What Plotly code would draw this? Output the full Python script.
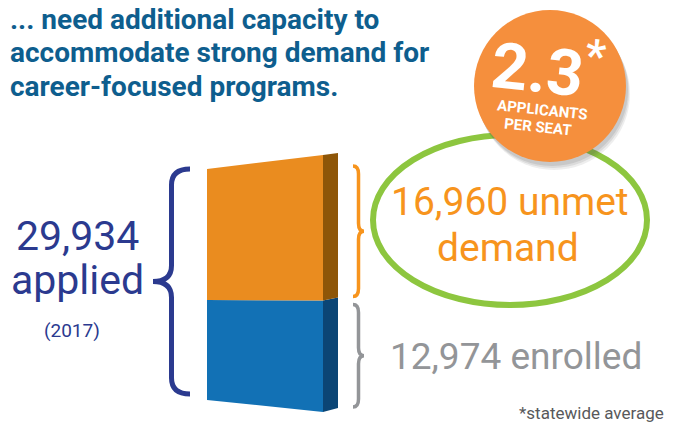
import plotly.graph_objects as go

# data
segments = ["enrolled", "unmet demand"]
segment_values = [12974, 16960]
applied_total = 29934
applied_year = "2017"
applicants_per_seat = 2.3
footnote = "*statewide average"

NAVY = "#2B3A8F"
TITLE_BLUE = "#0E5E8E"
ORANGE = "#F7941D"
GREY = "#939598"
GREEN = "#8DC63F"
FRONT = ["#1271B5", "#EA8C1F"]
SIDE = ["#0B4575", "#8E5608"]
FONT = "Roboto, Liberation Sans, sans-serif"

W, H = 680, 423
PAGE_OFFSET = 8  # the page body margin pushes the plot 8px right and down

# bar axis: value 0 sits at pixel 412, the total at pixel 155 on the front-right edge
Y_ZERO_PX = 412
PX_PER_UNIT = (412 - 155) / applied_total


def to_units(px):
    return (Y_ZERO_PX - px) / PX_PER_UNIT


def edge(v, bottom_px, top_px):
    b, t = to_units(bottom_px), to_units(top_px)
    return b + v / applied_total * (t - b)


def to_px(v):
    return Y_ZERO_PX - v * PX_PER_UNIT


X_LEFT, X_FRONT_R, X_SIDE_R = 207, 323, 338
LEFT_EDGE = (400, 169)
RIGHT_EDGE = (412, 155)
SIDE_EDGE = (408, 153)

fig = go.Figure()

base = 0
for i, v in enumerate(segment_values):
    top = base + v
    fig.add_trace(go.Scatter(
        x=[X_LEFT, X_FRONT_R, X_FRONT_R, X_LEFT],
        y=[edge(base, *LEFT_EDGE), edge(base, *RIGHT_EDGE),
           edge(top, *RIGHT_EDGE), edge(top, *LEFT_EDGE)],
        yaxis="y2", fill="toself", fillcolor=FRONT[i], mode="lines",
        line=dict(width=0, color=FRONT[i]), hoverinfo="skip", name=segments[i],
    ))
    fig.add_trace(go.Scatter(
        x=[X_FRONT_R, X_SIDE_R, X_SIDE_R, X_FRONT_R],
        y=[edge(base, *RIGHT_EDGE), edge(base, *SIDE_EDGE),
           edge(top, *SIDE_EDGE), edge(top, *RIGHT_EDGE)],
        yaxis="y2", fill="toself", fillcolor=SIDE[i], mode="lines",
        line=dict(width=0, color=SIDE[i]), hoverinfo="skip", showlegend=False,
    ))
    base = top


def brace(x_end, x_tip, top, bottom, r=10):
    xm = (x_end + x_tip) / 2
    mid = (top + bottom) / 2
    return (f"M {x_end},{top} Q {xm},{top} {xm},{top + r} "
            f"L {xm},{mid - r} Q {xm},{mid} {x_tip},{mid} "
            f"Q {xm},{mid} {xm},{mid + r} "
            f"L {xm},{bottom - r} Q {xm},{bottom} {x_end},{bottom}")


split_px = to_px(segment_values[0])
shapes = [
    dict(type="path", path=brace(190, 153, 169, 394, r=16),
         line=dict(color=NAVY, width=5)),
    dict(type="path", path=brace(353, 364, 166, split_px - 4, r=8),
         line=dict(color=ORANGE, width=3.5)),
    dict(type="path", path=brace(353, 364, split_px + 4, 407, r=8),
         line=dict(color=GREY, width=3.5)),
    dict(type="circle", x0=373, x1=647, y0=135, y1=305,
         line=dict(color=GREEN, width=6)),
]
# soft shadow under the badge
for dx, dy, op in [(4, 8, 0.10), (3, 6, 0.12), (2, 4, 0.14)]:
    shapes.append(dict(type="circle", x0=474 + dx, x1=626 + dx, y0=10 + dy, y1=162 + dy,
                       fillcolor="#555555", opacity=op, line=dict(width=0)))
shapes.append(dict(type="circle", x0=474, x1=626, y0=10, y1=162,
                   fillcolor="#F58F3D", line=dict(width=0)))

title_lines = ["... need additional capacity to",
               "accommodate strong demand for",
               "career-focused programs."]
title_y = [19.5, 52, 86.5]
annotations = []
for line, ty in zip(title_lines, title_y):
    annotations.append(dict(x=PAGE_OFFSET, y=ty, text=f"<b>{line}</b>",
                            xanchor="left", yanchor="middle",
                            font=dict(size=28, color=TITLE_BLUE)))

annotations += [
    dict(x=77, y=236, text=f"{applied_total:,}", font=dict(size=41, color=NAVY)),
    dict(x=77, y=280, text="applied", font=dict(size=41, color=NAVY)),
    dict(x=72, y=330, text=f"({applied_year})", font=dict(size=19, color=NAVY)),
    dict(x=510, y=202, text=f"{segment_values[1]:,} unmet", font=dict(size=39, color=ORANGE)),
    dict(x=508, y=248, text="demand", font=dict(size=39, color=ORANGE)),
    dict(x=516, y=356, text=f"{segment_values[0]:,} enrolled", font=dict(size=37, color=GREY)),
    dict(x=591, y=413, text=footnote, font=dict(size=17, color="#58595B")),
    dict(x=548, y=66, text=f"<b>{applicants_per_seat}</b><sup><b>*</b></sup>", textangle=6,
         font=dict(size=64, color="white")),
    dict(x=542, y=110, text="<b>APPLICANTS</b>", textangle=6, font=dict(size=15, color="white")),
    dict(x=538, y=127, text="<b>PER SEAT</b>", textangle=6, font=dict(size=15, color="white")),
]
for a in annotations:
    a.setdefault("xanchor", "center")
    a.setdefault("yanchor", "middle")
    a.update(xref="x", yref="y", showarrow=False)

fig.update_layout(
    width=W - PAGE_OFFSET, height=H - PAGE_OFFSET,
    margin=dict(l=0, r=0, t=0, b=0),
    paper_bgcolor="white", plot_bgcolor="white",
    showlegend=False,
    font=dict(family=FONT),
    xaxis=dict(range=[PAGE_OFFSET, W], visible=False, fixedrange=True),
    yaxis=dict(range=[H, PAGE_OFFSET], visible=False, fixedrange=True),
    yaxis2=dict(range=[to_units(H), to_units(PAGE_OFFSET)], overlaying="y", visible=False,
                fixedrange=True),
    shapes=shapes,
    annotations=annotations,
)

fig.write_html("out.html")
